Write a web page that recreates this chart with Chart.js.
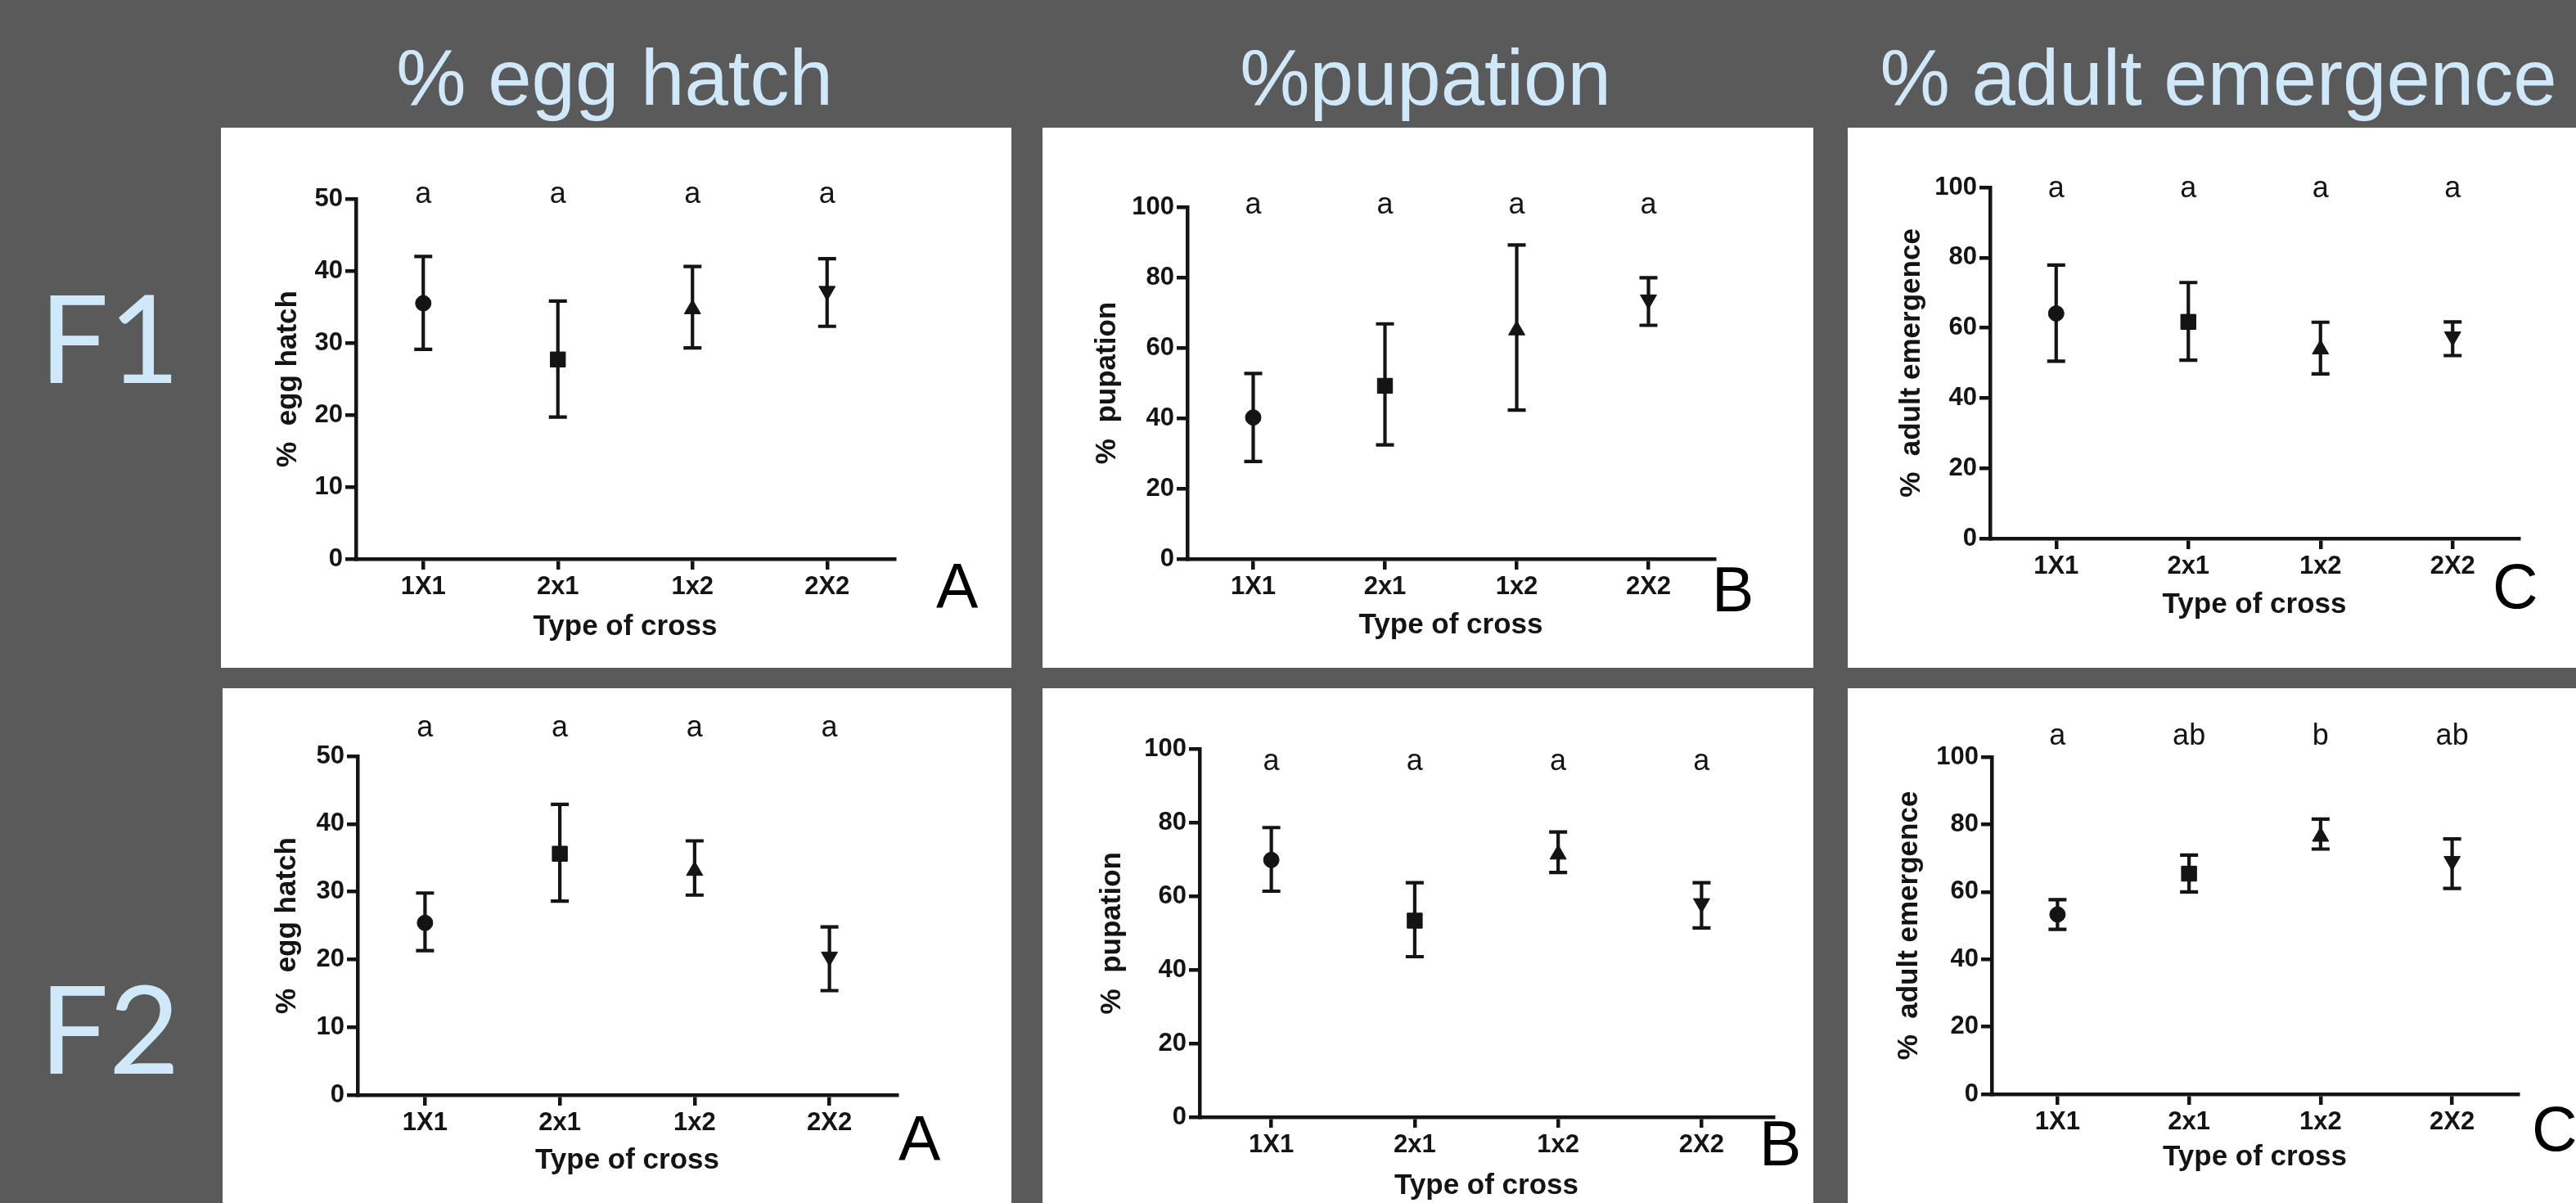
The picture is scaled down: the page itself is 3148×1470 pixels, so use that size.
<!DOCTYPE html>
<html>
<head>
<meta charset="utf-8">
<script src="https://cdn.jsdelivr.net/npm/chart.js@4.4.1/dist/chart.umd.min.js"></script>
<style>
  html, body { margin:0; padding:0; background:#5a5a5a; width:3148px; height:1470px; overflow:hidden; }
  #bg { position:absolute; left:0; top:0; }
  .panel { position:absolute; background:#ffffff; overflow:hidden; }
  .panel canvas { display:block; }
</style>
</head>
<body>
<canvas id="bg" width="3148" height="1470"></canvas>
<script>
// ---------------- data ----------------
const crosses = ['1X1', '2x1', '1x2', '2X2'];

const hatchTicks = [0, 10, 20, 30, 40, 50];
const pctTicks = [0, 20, 40, 60, 80, 100];

// F1 generation
const f1HatchMean = [35.5, 27.7, 34.7, 37.2];
const f1HatchLow  = [29.1, 19.7, 29.3, 32.3];
const f1HatchHigh = [42.0, 35.8, 40.6, 41.7];
const f1HatchSig  = ['a', 'a', 'a', 'a'];

const f1PupMean = [40.2, 49.2, 65.0, 73.7];
const f1PupLow  = [27.7, 32.4, 42.3, 66.4];
const f1PupHigh = [52.7, 66.8, 89.2, 79.9];
const f1PupSig  = ['a', 'a', 'a', 'a'];

const f1AdultMean = [64.1, 61.7, 53.9, 57.5];
const f1AdultLow  = [50.5, 50.8, 46.9, 52.1];
const f1AdultHigh = [77.9, 72.9, 61.6, 61.7];
const f1AdultSig  = ['a', 'a', 'a', 'a'];

// F2 generation
const f2HatchMean = [25.4, 35.6, 33.1, 20.4];
const f2HatchLow  = [21.3, 28.6, 29.5, 15.4];
const f2HatchHigh = [29.8, 42.9, 37.5, 24.8];
const f2HatchSig  = ['a', 'a', 'a', 'a'];

const f2PupMean = [69.9, 53.4, 71.4, 58.1];
const f2PupLow  = [61.4, 43.6, 66.5, 51.4];
const f2PupHigh = [78.7, 63.7, 77.5, 63.7];
const f2PupSig  = ['a', 'a', 'a', 'a'];

const f2AdultMean = [53.3, 65.4, 76.4, 69.1];
const f2AdultLow  = [48.9, 60.0, 72.7, 61.0];
const f2AdultHigh = [57.7, 70.9, 81.6, 75.7];
const f2AdultSig  = ['a', 'ab', 'b', 'ab'];

const columnTitles = ['% egg hatch', '%pupation', '% adult emergence'];
const rowTitles = ['F1', 'F2'];

// ---------------- style / layout ----------------
const INK = '#141414';
const LIGHT = '#cfe9fb';
const FONT = '"Liberation Sans", Arial, Helvetica, sans-serif';

// background texts
const bg = document.getElementById('bg').getContext('2d');
bg.fillStyle = LIGHT;
bg.textBaseline = 'alphabetic';
bg.textAlign = 'center';
bg.font = '96px ' + FONT;
[[751, 128], [1742, 128], [2711, 128]].forEach((p, i) => bg.fillText(columnTitles[i], p[0], p[1]));
bg.textAlign = 'left';
bg.font = '150px Lato, "Open Sans", sans-serif';
[[48, 468], [48, 1312]].forEach((p, i) => bg.fillText(rowTitles[i], p[0], p[1]));

const panels = [
  { rect:[270,156,966,660], ca:[435,1093,243,683], yTitleX:352, xTitleY:766.5, letterY:248,
    mean:f1HatchMean, low:f1HatchLow, high:f1HatchHigh, sig:f1HatchSig, ticks:hatchTicks,
    yTitle:'%  egg hatch', tag:'A', tagPos:[1144,743] },
  { rect:[1274,156,942,660], ca:[1451,2095,253,683], yTitleX:1353, xTitleY:764, letterY:261,
    mean:f1PupMean, low:f1PupLow, high:f1PupHigh, sig:f1PupSig, ticks:pctTicks,
    yTitle:'%  pupation', tag:'B', tagPos:[2092,747] },
  { rect:[2258,156,890,660], ca:[2432,3078,229,658], yTitleX:2336, xTitleY:739, letterY:240.5,
    mean:f1AdultMean, low:f1AdultLow, high:f1AdultHigh, sig:f1AdultSig, ticks:pctTicks,
    yTitle:'%  adult emergence', tag:'C', tagPos:[3046,743] },
  { rect:[272,841,964,629], ca:[437,1096,924,1338], yTitleX:351, xTitleY:1418.5, letterY:900,
    mean:f2HatchMean, low:f2HatchLow, high:f2HatchHigh, sig:f2HatchSig, ticks:hatchTicks,
    yTitle:'%  egg hatch', tag:'A', tagPos:[1098,1418] },
  { rect:[1274,841,942,629], ca:[1466,2167,915.5,1365], yTitleX:1359, xTitleY:1449, letterY:940.5,
    mean:f2PupMean, low:f2PupLow, high:f2PupHigh, sig:f2PupSig, ticks:pctTicks,
    yTitle:'%  pupation', tag:'B', tagPos:[2150,1424] },
  { rect:[2258,841,890,629], ca:[2434,3077,925,1337], yTitleX:2333, xTitleY:1414.5, letterY:910,
    mean:f2AdultMean, low:f2AdultLow, high:f2AdultHigh, sig:f2AdultSig, ticks:pctTicks,
    yTitle:'%  adult emergence', tag:'C', tagPos:[3094,1406] }
];

const errorBars = {
  id: 'errorBars',
  beforeDatasetsDraw(chart) {
    const ds = chart.data.datasets[0];
    const xs = chart.scales.x, ys = chart.scales.y, ctx = chart.ctx;
    ctx.save();
    ctx.strokeStyle = INK;
    ctx.lineWidth = 4.2;
    ds.low.forEach((lo, i) => {
      const px = xs.getPixelForValue(i);
      const y1 = ys.getPixelForValue(lo);
      const y2 = ys.getPixelForValue(ds.high[i]);
      ctx.beginPath();
      ctx.moveTo(px, y1); ctx.lineTo(px, y2);
      ctx.moveTo(px - 11, y1); ctx.lineTo(px + 11, y1);
      ctx.moveTo(px - 11, y2); ctx.lineTo(px + 11, y2);
      ctx.stroke();
    });
    ctx.restore();
  }
};

const extras = {
  id: 'extras',
  afterDraw(chart, args, opts) {
    const ctx = chart.ctx, xs = chart.scales.x;
    ctx.save();
    ctx.fillStyle = INK;
    ctx.textAlign = 'center';
    ctx.textBaseline = 'alphabetic';
    ctx.font = '36px ' + FONT;
    opts.letters.forEach((t, i) => ctx.fillText(t, xs.getPixelForValue(i), opts.letterY));
    ctx.textAlign = 'left';
    ctx.fillStyle = '#000';
    ctx.font = '77px ' + FONT;
    ctx.fillText(opts.tag, opts.tagX, opts.tagY);
    ctx.restore();
  }
};

panels.forEach(p => {
  const [rx, ry, rw, rh] = p.rect;
  const [L, R, T, B] = p.ca;
  const div = document.createElement('div');
  div.className = 'panel';
  div.style.left = rx + 'px'; div.style.top = ry + 'px';
  div.style.width = rw + 'px'; div.style.height = rh + 'px';
  const cv = document.createElement('canvas');
  cv.width = rw; cv.height = rh;
  cv.style.width = rw + 'px'; cv.style.height = rh + 'px';
  div.appendChild(cv);
  document.body.appendChild(div);

  const titleLH = 35 * 1.2;
  const yW = L - rx;
  const xH = p.xTitleY - B + titleLH / 2;
  const padTop = T - ry, padRight = rx + rw - R, padBottom = rh - (B - ry) - xH;

  new Chart(cv, {
    type: 'line',
    data: {
      labels: crosses,
      datasets: [{
        data: p.mean, low: p.low, high: p.high,
        showLine: false,
        pointStyle: ['circle', 'rect', 'triangle', 'triangle'],
        pointRotation: [0, 0, 0, 180],
        pointRadius: [9.5, 13, 11.5, 11.5],
        pointHoverRadius: [9.5, 13, 11.5, 11.5],
        pointBackgroundColor: INK,
        pointBorderColor: INK,
        pointBorderWidth: 1
      }]
    },
    options: {
      responsive: false,
      animation: false,
      devicePixelRatio: 1,
      events: [],
      layout: { padding: { top: padTop, right: padRight, bottom: padBottom, left: 0 } },
      plugins: {
        legend: { display: false },
        tooltip: { enabled: false },
        extras: { letters: p.sig, letterY: p.letterY - ry, tag: p.tag, tagX: p.tagPos[0] - rx, tagY: p.tagPos[1] - ry }
      },
      scales: {
        x: {
          type: 'category',
          offset: true,
          grid: { offset: false, drawOnChartArea: false, color: INK, lineWidth: 4.5, tickLength: 13 },
          border: { color: INK, width: 4.5 },
          ticks: { color: INK, font: { family: FONT, size: 31, weight: 'bold' }, padding: 3, maxRotation: 0, autoSkip: false },
          title: { display: true, text: 'Type of cross', color: INK, font: { family: FONT, size: 35, weight: 'bold' }, padding: 0 },
          afterFit: s => { s.height = xH; }
        },
        y: {
          type: 'linear',
          min: p.ticks[0],
          max: p.ticks[p.ticks.length - 1],
          afterBuildTicks: s => { s.ticks = p.ticks.map(v => ({ value: v })); },
          grid: { drawOnChartArea: false, color: INK, lineWidth: 4.5, tickLength: 13 },
          border: { color: INK, width: 4.5 },
          ticks: { color: INK, font: { family: FONT, size: 31, weight: 'bold' }, padding: 3 },
          title: { display: true, text: p.yTitle, color: INK, font: { family: FONT, size: 35, weight: 'bold' },
                   padding: { top: p.yTitleX - rx - titleLH / 2, bottom: 0 } },
          afterFit: s => { s.width = yW; }
        }
      }
    },
    plugins: [errorBars, extras]
  });
});
</script>
</body>
</html>
